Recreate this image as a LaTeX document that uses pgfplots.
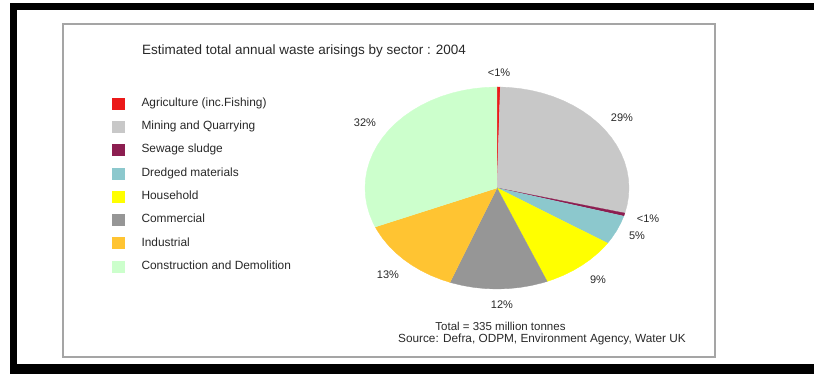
\documentclass[border=0pt]{standalone}
\usepackage{pgfplots}
\pgfplotsset{compat=1.18}
\usepackage{fontspec}
\setmainfont{Liberation Sans}
\definecolor{cagri}{RGB}{235,25,25}
\definecolor{cmine}{RGB}{200,200,200}
\definecolor{csew}{RGB}{140,30,80}
\definecolor{cdred}{RGB}{140,200,205}
\definecolor{chouse}{RGB}{255,255,0}
\definecolor{ccomm}{RGB}{150,150,150}
\definecolor{cind}{RGB}{255,196,50}
\definecolor{ccons}{RGB}{204,255,204}
\definecolor{ctxt}{RGB}{40,40,40}
\begin{document}
\begin{tikzpicture}[x=1pt,y=1pt]
\useasboundingbox (0,0) rectangle (814,374);
% frame
\fill[black] (10,364) rectangle (814,371);
\fill[black] (10,0) rectangle (17,371);
\fill[black] (10,0) rectangle (814,10);
\draw[color={rgb,255:red,165;green,165;blue,165}, line width=1.2pt] (63,17) rectangle (715,350);
% shares (%): Agriculture 0.4, Mining 28.6, Sewage 0.5, Dredged 4.7,
% Household 9.6, Commercial 12, Industrial 12.9, Construction 31.3
\begin{axis}[at={(0,0)}, anchor=south west, scale only axis,
  width=814pt, height=374pt,
  xmin=-3.7652, xmax=2.4015, ymin=-1.8416, ymax=1.8614,
  hide axis, clip=false, data cs=polar, area legend,
  legend image code/.code={\fill[#1] (0pt,-5.5pt) rectangle (12pt,5.5pt);},
  legend cell align=left,
  legend style={at={(0.1376,0.7393)}, anchor=north west, draw=none, fill=none,
    inner sep=0pt, row sep=12pt, column sep=17pt,
    font=\fontsize{11.9}{14}\selectfont\color{ctxt},
    nodes={inner sep=0pt, text height=8.5pt, text depth=2.5pt}},
]
\addplot[fill=cagri, draw=cagri, line width=0.3pt] coordinates {(0,0) (90,1) (88.56,1)};
\addlegendentry{Agriculture (inc.Fishing)}
\addplot[fill=cmine, draw=cmine, line width=0.3pt] coordinates {(0,0) (88.56,1) (85,1) (80,1) (75,1) (70,1) (65,1) (60,1) (55,1) (50,1) (45,1) (40,1) (35,1) (30,1) (25,1) (20,1) (15,1) (10,1) (5,1) (0,1) (-5,1) (-10,1) (-14.4,1)};
\addlegendentry{Mining and Quarrying}
\addplot[fill=csew, draw=csew, line width=0.3pt] coordinates {(0,0) (-14.4,1) (-16.2,1)};
\addlegendentry{Sewage sludge}
\addplot[fill=cdred, draw=cdred, line width=0.3pt] coordinates {(0,0) (-16.2,1) (-20,1) (-25,1) (-30,1) (-33.12,1)};
\addlegendentry{Dredged materials}
\addplot[fill=chouse, draw=chouse, line width=0.3pt] coordinates {(0,0) (-33.12,1) (-35,1) (-40,1) (-45,1) (-50,1) (-55,1) (-60,1) (-65,1) (-67.68,1)};
\addlegendentry{Household}
\addplot[fill=ccomm, draw=ccomm, line width=0.3pt] coordinates {(0,0) (-67.68,1) (-70,1) (-75,1) (-80,1) (-85,1) (-90,1) (-95,1) (-100,1) (-105,1) (-110,1) (-110.88,1)};
\addlegendentry{Commercial}
\addplot[fill=cind, draw=cind, line width=0.3pt] coordinates {(0,0) (-110.88,1) (-115,1) (-120,1) (-125,1) (-130,1) (-135,1) (-140,1) (-145,1) (-150,1) (-155,1) (-157.32,1)};
\addlegendentry{Industrial}
\addplot[fill=ccons, draw=ccons, line width=0.3pt] coordinates {(0,0) (-157.32,1) (-160,1) (-165,1) (-170,1) (-175,1) (-180,1) (-185,1) (-190,1) (-195,1) (-200,1) (-205,1) (-210,1) (-215,1) (-220,1) (-225,1) (-230,1) (-235,1) (-240,1) (-245,1) (-250,1) (-255,1) (-260,1) (-265,1) (-270,1)};
\addlegendentry{Construction and Demolition}
\end{axis}
\begin{scope}[every node/.style={inner sep=0pt, text=ctxt, font=\fontsize{11}{13}\selectfont}]
\node[font=\fontsize{13.5}{16}\selectfont] at (304,323.3) {Estimated total annual waste arisings by sector : 2004};
\node at (499,301) {<1\%};
\node at (622,256) {29\%};
\node at (365,251) {32\%};
\node at (648,155) {<1\%};
\node at (637,138) {5\%};
\node at (598,94) {9\%};
\node at (388,99) {13\%};
\node at (502,69) {12\%};
\node[font=\fontsize{11.5}{13}\selectfont] at (500.5,48) {Total = 335 million tonnes};
\node[anchor=east, font=\fontsize{11.8}{13}\selectfont] at (686,34.7) {Source: Defra, ODPM, Environment Agency, Water UK};
\end{scope}
\end{tikzpicture}
\end{document}
